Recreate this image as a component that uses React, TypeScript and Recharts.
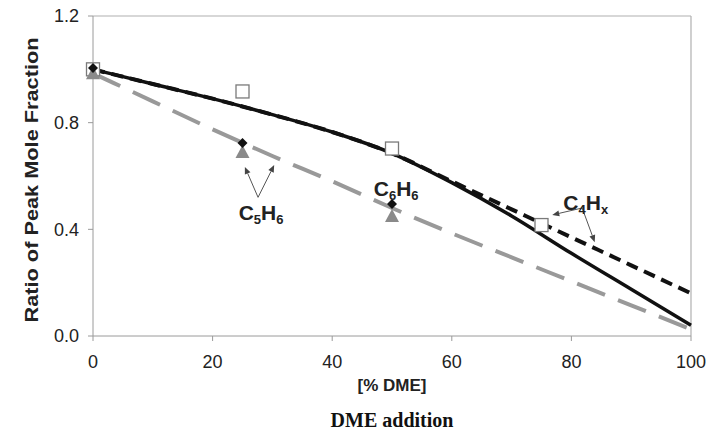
import React from "react";
import {
  ComposedChart,
  Line,
  Scatter,
  XAxis,
  YAxis,
  ReferenceLine,
  ReferenceDot,
  Label,
} from "recharts";

const PCT = [0, 10, 20, 30, 40, 50, 60, 70, 80, 90, 100];
const SOLID_FIT = [1.0, 0.945, 0.89, 0.83, 0.765, 0.685, 0.575, 0.45, 0.31, 0.175, 0.04];
const DASHED_FIT = [1.0, 0.945, 0.89, 0.83, 0.765, 0.685, 0.58, 0.475, 0.37, 0.265, 0.16];
const GRAY_FIT = [0.985, 0.88, 0.775, 0.675, 0.58, 0.48, 0.385, 0.295, 0.205, 0.115, 0.025];

// measured points
const SQ_X = [0, 25, 50, 75];
const SQ_Y = [1.0, 0.917, 0.703, 0.416];
const DIA_X = [0, 25, 50];
const DIA_Y = [1.005, 0.724, 0.495];
const TRI_X = [0, 25, 50];
const TRI_Y = [0.985, 0.69, 0.45];

const X_TICKS = [0, 20, 40, 60, 80, 100];
const Y_TICKS = [0, 0.4, 0.8, 1.2];

// annotation anchors (data coords)
const LABELS = [
  { x: 28.1, y: 0.461, main: ["C", "H"], subs: ["5", "6"] },
  { x: 50.7, y: 0.551, main: ["C", "H"], subs: ["6", "6"] },
  { x: 82.4, y: 0.499, main: ["C", "H"], subs: ["4", "x"] },
];
const ARROWS = [
  [{ x: 27.6, y: 0.52 }, { x: 25.4, y: 0.634 }],
  [{ x: 27.6, y: 0.52 }, { x: 30.3, y: 0.641 }],
  [{ x: 81.8, y: 0.48 }, { x: 76.8, y: 0.454 }],
  [{ x: 81.8, y: 0.48 }, { x: 83.9, y: 0.352 }],
];

const toRows = (xs: number[], ys: number[]) => xs.map((x, i) => ({ x, y: ys[i] }));

const solidData = toRows(PCT, SOLID_FIT);
const dashedData = toRows(PCT, DASHED_FIT);
const grayData = toRows(PCT, GRAY_FIT);
const squareData = toRows(SQ_X, SQ_Y);
const diamondData = toRows(DIA_X, DIA_Y);
const triangleData = toRows(TRI_X, TRI_Y);

const AXIS = "#9a9a9a";
const TXT = "#222";
const FONT = "'Liberation Sans', Arial, sans-serif";

const SquareDot = (p: any) => (
  <rect x={p.cx - 6.5} y={p.cy - 6.5} width={13} height={13} fill="#fff" stroke="#7a7a7a" strokeWidth={1.3} />
);
const DiamondDot = (p: any) => (
  <polygon points={`${p.cx},${p.cy - 5} ${p.cx + 5},${p.cy} ${p.cx},${p.cy + 5} ${p.cx - 5},${p.cy}`} fill="#111" />
);
const TriangleDot = (p: any) => (
  <polygon points={`${p.cx},${p.cy - 7} ${p.cx + 7},${p.cy + 6} ${p.cx - 7},${p.cy + 6}`} fill="#8a8a8a" />
);

const Formula = ({ main, subs }: { main: string[]; subs: string[] }) => (p: any) => (
  <text x={p.cx} y={p.cy + 7} textAnchor="middle" fontFamily={FONT} fontWeight="bold" fontSize={21} fill={TXT}>
    <tspan>{main[0]}</tspan>
    <tspan fontSize={13} dy={4}>{subs[0]}</tspan>
    <tspan dy={-4}>{main[1]}</tspan>
    <tspan fontSize={13} dy={4}>{subs[1]}</tspan>
  </text>
);

const Arrow = (p: any) => {
  const { x1, y1, x2, y2 } = p;
  const a = Math.atan2(y2 - y1, x2 - x1);
  const L = 7;
  const W = 3;
  const bx = x2 - L * Math.cos(a);
  const by = y2 - L * Math.sin(a);
  const px = -Math.sin(a) * W;
  const py = Math.cos(a) * W;
  return (
    <g>
      <line x1={x1} y1={y1} x2={bx} y2={by} stroke="#555" strokeWidth={1} />
      <polygon points={`${x2},${y2} ${bx + px},${by + py} ${bx - px},${by - py}`} fill="#444" />
    </g>
  );
};

const YTitle = (props: any) => {
  const vb = props.viewBox;
  const cx = vb.x + 31;
  const cy = vb.y + vb.height / 2 + 4;
  return (
    <text
      x={cx}
      y={cy}
      transform={`rotate(-90 ${cx} ${cy})`}
      textAnchor="middle"
      dominantBaseline="central"
      fontFamily={FONT}
      fontWeight="bold"
      fontSize={19}
      fill={TXT}
      textLength={285}
      lengthAdjust="spacingAndGlyphs"
    >
      Ratio of Peak Mole Fraction
    </text>
  );
};

export default function App() {
  return (
    <div style={{ position: "absolute", left: 0, top: 0, width: 709, height: 438, background: "#fff" }}>
      <ComposedChart width={709} height={438} margin={{ top: 16, right: 18, bottom: 72, left: 0 }}>
        <XAxis
          dataKey="x"
          type="number"
          domain={[0, 100]}
          ticks={X_TICKS}
          allowDuplicatedCategory={false}
          height={30}
          stroke={AXIS}
          tickSize={5}
          tickMargin={14}
          tick={{ fill: TXT, fontSize: 18, fontFamily: FONT }}
        />
        <YAxis
          type="number"
          domain={[0, 1.2]}
          ticks={Y_TICKS}
          width={93}
          stroke={AXIS}
          tickSize={5}
          tickMargin={9}
          tickFormatter={(v: number) => v.toFixed(1)}
          tick={{ fill: TXT, fontSize: 18, fontFamily: FONT }}
        >
          <Label content={YTitle} />
        </YAxis>
        <ReferenceLine y={1.2} stroke="#b0b0b0" strokeWidth={1.2} />
        <ReferenceLine x={100} stroke="#b0b0b0" strokeWidth={1.2} />

        <Line data={grayData} dataKey="y" type="monotone" stroke="#999" strokeWidth={4} strokeDasharray="30 14" dot={false} isAnimationActive={false} />
        <Line data={dashedData} dataKey="y" type="monotone" stroke="#111" strokeWidth={4} strokeDasharray="12 7" dot={false} isAnimationActive={false} />
        <Line data={solidData} dataKey="y" type="monotone" stroke="#111" strokeWidth={3.5} dot={false} isAnimationActive={false} />

        <Scatter data={squareData} dataKey="y" shape={SquareDot} isAnimationActive={false} />
        <Scatter data={triangleData} dataKey="y" shape={TriangleDot} isAnimationActive={false} />
        <Scatter data={diamondData} dataKey="y" shape={DiamondDot} isAnimationActive={false} />

        {ARROWS.map((seg, i) => (
          <ReferenceLine key={`a${i}`} segment={seg} shape={Arrow} />
        ))}
        {LABELS.map((l, i) => (
          <ReferenceDot key={`l${i}`} x={l.x} y={l.y} r={0} shape={Formula(l)} />
        ))}
      </ComposedChart>
      <div
        style={{
          position: "absolute",
          left: 93,
          width: 598,
          top: 376,
          textAlign: "center",
          fontFamily: FONT,
          fontWeight: "bold",
          fontSize: 17,
          color: TXT,
        }}
      >
        [% DME]
      </div>
      <div
        style={{
          position: "absolute",
          left: 93,
          width: 598,
          top: 409,
          textAlign: "center",
          fontFamily: "'Liberation Serif', 'Times New Roman', serif",
          fontWeight: "bold",
          fontSize: 20,
          color: "#111",
        }}
      >
        DME addition
      </div>
    </div>
  );
}
